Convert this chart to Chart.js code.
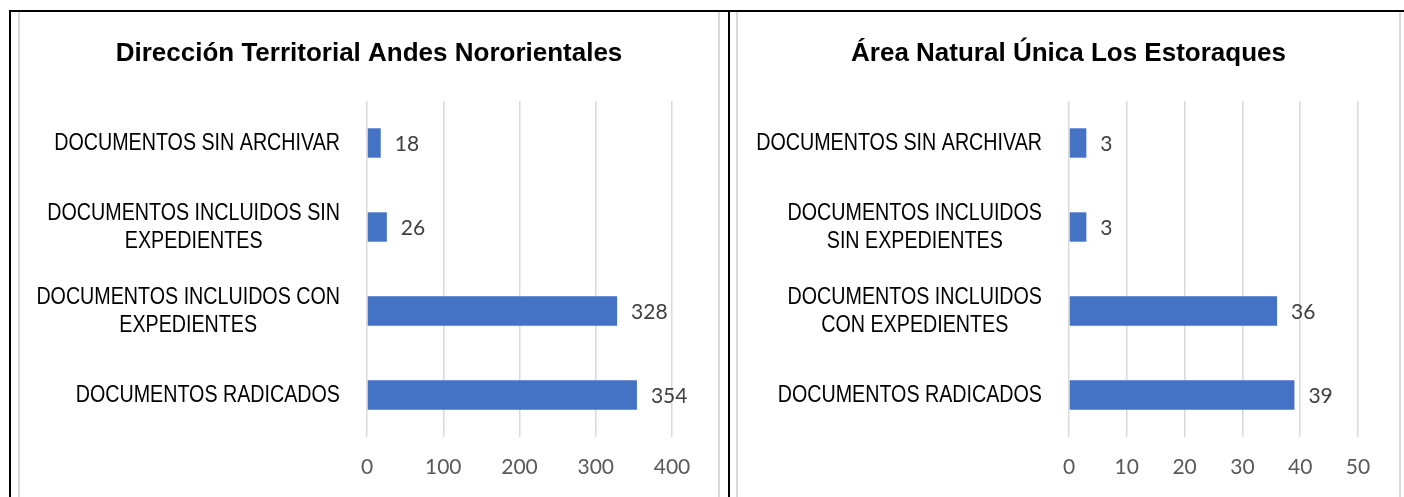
<!DOCTYPE html>
<html>
<head>
<meta charset="utf-8">
<script src="https://cdn.jsdelivr.net/npm/chart.js@4/dist/chart.umd.min.js"></script>
<style>
  body { margin: 0; background: #fff; width: 1404px; height: 497px; overflow: hidden; position: relative; }
  .ln { position: absolute; }
  .negro { background: #000; }
  .gris { background: #d9d9d9; }
  #panelAndes { position: absolute; left: 20px; top: 12px; width: 698px; height: 485px; }
  #panelEsto { position: absolute; left: 738px; top: 12px; width: 661px; height: 485px; }
</style>
</head>
<body>
<!-- bordes de la tabla -->
<div class="ln negro" style="left:9px; top:10px; width:1395px; height:2px"></div>
<div class="ln negro" style="left:9px; top:10px; width:2px; height:487px"></div>
<div class="ln negro" style="left:728px; top:10px; width:2px; height:487px"></div>
<div class="ln gris" style="left:18px; top:12px; width:2px; height:485px"></div>
<div class="ln gris" style="left:718px; top:12px; width:2px; height:485px"></div>
<div class="ln gris" style="left:736px; top:12px; width:2px; height:485px"></div>
<div class="ln gris" style="left:1399px; top:12px; width:2px; height:485px"></div>

<div id="panelAndes"><canvas id="chartAndes"></canvas></div>
<div id="panelEsto"><canvas id="chartEsto"></canvas></div>

<script>
// datos
var tituloAndes = 'Dirección Territorial Andes Nororientales';
var catAndes = [['DOCUMENTOS SIN ARCHIVAR'], ['DOCUMENTOS INCLUIDOS SIN', 'EXPEDIENTES'], ['DOCUMENTOS INCLUIDOS CON', 'EXPEDIENTES'], ['DOCUMENTOS RADICADOS']];
var valAndes = [18, 26, 328, 354];
var ejeAndes = [0, 100, 200, 300, 400];

var tituloEsto = 'Área Natural Única Los Estoraques';
var catEsto = [['DOCUMENTOS SIN ARCHIVAR'], ['DOCUMENTOS INCLUIDOS', 'SIN EXPEDIENTES'], ['DOCUMENTOS INCLUIDOS', 'CON EXPEDIENTES'], ['DOCUMENTOS RADICADOS']];
var valEsto = [3, 3, 36, 39];
var ejeEsto = [0, 10, 20, 30, 40, 50];

// no hay Arial Narrow: Liberation Sans comprimida en horizontal
var fuenteTexto = "'Liberation Sans', Arial, sans-serif";
var fuenteNum = "Lato, 'Open Sans', sans-serif";
var estrecho = 0.82;

function textoEstrecho(ctx, txt, x, y, esc) {
	ctx.save();
	ctx.translate(x, y);
	ctx.scale(esc, 1);
	ctx.fillText(txt, 0, 0);
	ctx.restore();
}

// titulo, etiquetas de categoria y de valor
var etiquetasPlugin = {
	id: 'etiquetas',
	afterDraw: function(chart) {
		var ctx = chart.ctx;
		var yScale = chart.scales.y;
		var cats = chart.data.labels;
		ctx.save();
		ctx.textBaseline = 'middle';

		// titulo (el del plugin queda transparente, solo reserva el espacio)
		var tb = chart.titleBlock;
		var tOpts = chart.options.plugins.title;
		ctx.font = 'bold 26px ' + fuenteTexto;
		ctx.fillStyle = '#000';
		ctx.textAlign = 'center';
		textoEstrecho(ctx, tOpts.text, chart.width / 2, tb.top + tOpts.padding.top + 17, 1);

		// categorias
		ctx.font = '24px ' + fuenteTexto;
		for (var i = 0; i < cats.length; i++) {
			var lineas = cats[i];
			var ancho = 0;
			for (var j = 0; j < lineas.length; j++) {
				ancho = Math.max(ancho, ctx.measureText(lineas[j]).width * estrecho);
			}
			var cx = yScale.right - 27 - ancho / 2;
			var cy = yScale.getPixelForTick(i);
			var alto = 28;
			var y0 = cy - (lineas.length - 1) * alto / 2;
			for (var j = 0; j < lineas.length; j++) {
				textoEstrecho(ctx, lineas[j], cx, y0 + j * alto, estrecho);
			}
		}

		// valores
		ctx.font = '21px ' + fuenteNum;
		ctx.fillStyle = '#404040';
		ctx.textAlign = 'left';
		var meta = chart.getDatasetMeta(0);
		meta.data.forEach(function(bar, k) {
			ctx.fillText(String(chart.data.datasets[0].data[k]), bar.x + 14, bar.y + 1);
		});
		ctx.restore();
	}
};

function crearGrafica(id, titulo, cats, vals, eje, anchoEje, padDer) {
	var area = document.getElementById(id);
	return new Chart(area, {
		type: 'bar',
		data: {
			labels: cats,
			datasets: [
				{
					data: vals,
					backgroundColor: '#4472C4',
					barPercentage: 1,
					categoryPercentage: 0.35
				}
			]
		},
		options: {
			indexAxis: 'y',
			responsive: true,
			maintainAspectRatio: false,
			animation: false,
			layout: { padding: { left: 0, right: padDer, top: 0, bottom: 0 } },
			plugins: {
				legend: { display: false },
				tooltip: { enabled: false },
				title: {
					display: true,
					text: titulo,
					color: 'rgba(0,0,0,0)',
					font: { family: fuenteTexto, size: 25, weight: 'bold' },
					padding: { top: 25, bottom: 34 }
				}
			},
			scales: {
				x: {
					min: eje[0],
					max: eje[eje.length - 1],
					ticks: {
						stepSize: eje[1] - eje[0],
						color: '#595959',
						font: { family: fuenteNum, size: 21 },
						padding: 18
					},
					grid: { color: '#d9d9d9', lineWidth: 1.5, drawTicks: false },
					border: { display: false },
					afterFit: function(s) { s.height = 60; }
				},
				y: {
					ticks: { display: false },
					grid: { display: false },
					border: { display: false },
					afterFit: function(s) { s.width = anchoEje; }
				}
			}
		},
		plugins: [etiquetasPlugin]
	});
}

var chartAndes = crearGrafica('chartAndes', tituloAndes, catAndes, valAndes, ejeAndes, 347, 46);
var chartEsto = crearGrafica('chartEsto', tituloEsto, catEsto, valEsto, ejeEsto, 331, 41);
</script>
</body>
</html>
